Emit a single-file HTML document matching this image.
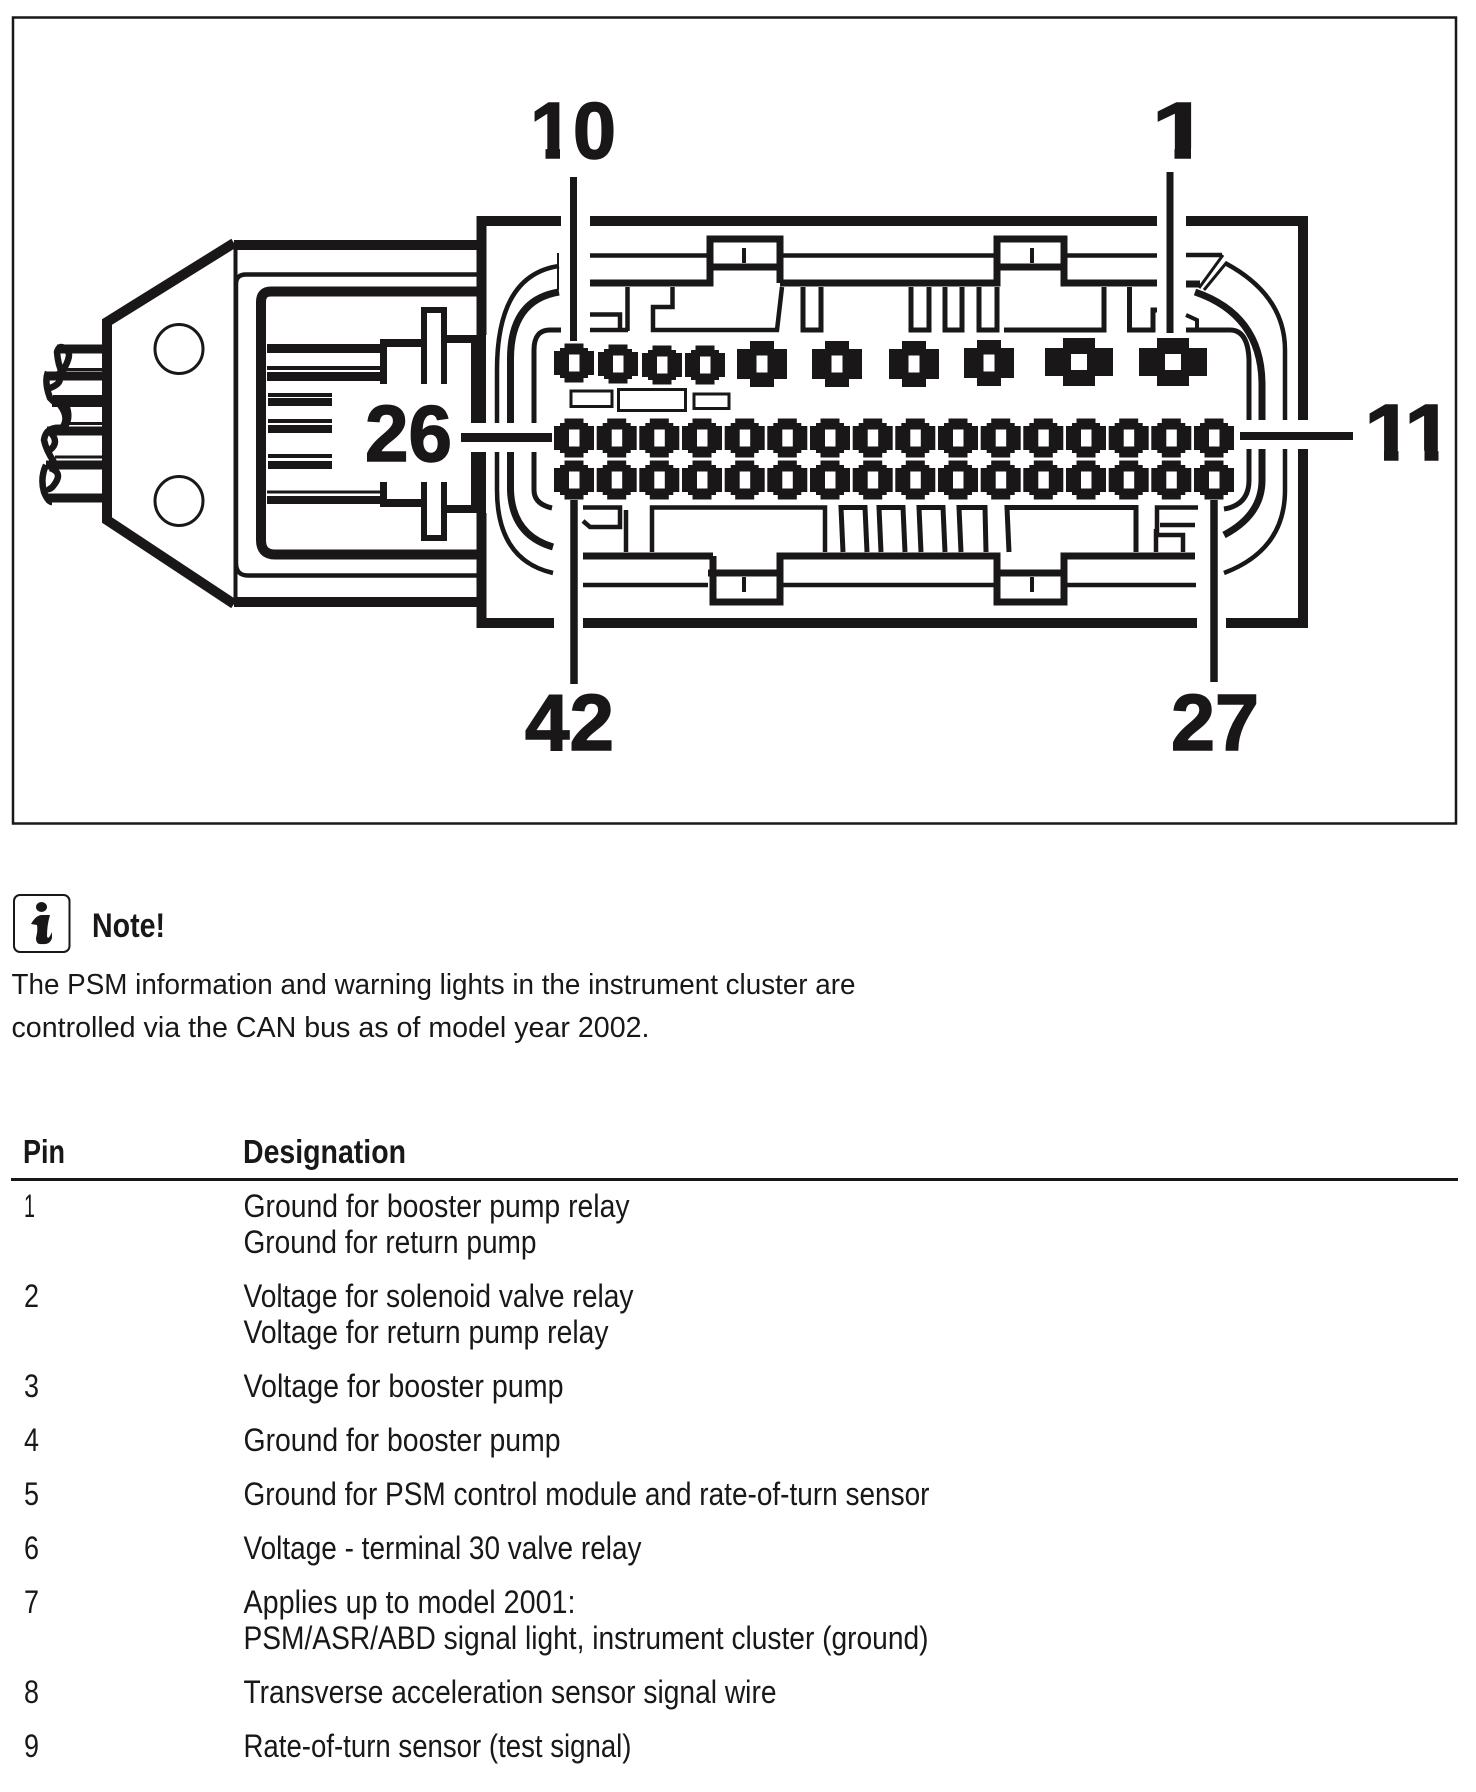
<!DOCTYPE html>
<html><head><meta charset="utf-8"><style>
html,body{margin:0;padding:0;background:#fff;width:1476px;height:1792px;overflow:hidden}
svg{display:block}
.l{font-family:"Liberation Sans",sans-serif;font-weight:700;font-size:80px;fill:#1a1718;stroke:#1a1718;stroke-width:1.5}
.t{font-family:"Liberation Sans",sans-serif;font-size:32px;fill:#1a1718}
.b{font-family:"Liberation Sans",sans-serif;font-size:33px;font-weight:700;fill:#1a1718}
.p{font-family:"Liberation Sans",sans-serif;font-size:29px;fill:#1a1718}
</style></head><body>
<svg width="1476" height="1792" viewBox="0 0 1476 1792" xmlns="http://www.w3.org/2000/svg">
<defs>
<path id="s" fill-rule="evenodd" d="M-9.5-19.5H9.5V-15H14V-12H20V12H14V15H9.5V19.5H-9.5V15H-14V12H-20V-12H-14V-15H-9.5ZM-5-8.5V8.5H5.5V-8.5Z"/>
<path id="m" fill-rule="evenodd" d="M-12-23H12V-15H25V15H12V23H-12V15H-25V-15H-12ZM-5.5-8.5V8.5H5.5V-8.5Z"/>
<path id="g" fill-rule="evenodd" d="M-16-24H16V-14H34V14H16V24H-16V14H-34V-14H-16ZM-8-8V8H8V-8Z"/>
</defs>
<rect x="13" y="17.500" width="1443" height="806" fill="none" stroke="#1a1718" stroke-width="2.500"/>
<g fill="none" stroke="#1a1718" stroke-linejoin="miter">
<!-- plug body -->
<path d="M234 245H477M234 602H477" stroke-width="10"/>
<path d="M234 243L107 322V520L234 604" stroke-width="10"/>
<path d="M235.500 245V602" stroke-width="4"/>
<ellipse cx="179" cy="349" rx="24" ry="24.500" stroke-width="3"/>
<ellipse cx="179" cy="501" rx="24" ry="24.500" stroke-width="3"/>
<path d="M477 274.500H246Q236 274.500 236 284V563Q236 575.500 248 575.500H477" stroke-width="4.500"/>
<path d="M477 291.500H271Q261 291.500 261 302V540Q261 554.500 275 554.500H477" stroke-width="10"/>
<!-- wires -->
<path d="M57 349H102M47 376H102M52 402.500H102M47 431H102M46 465H102M46 498H102" stroke-width="9"/>
<path d="M65 369.500H102M53 396.500H102M63 423.500H102M55 457H102" stroke-width="3"/>
<path d="M60 376Q72 356 68 352Q60 342 57 352Q58 365 62 372M48 372Q44 382 50 398L54 402M56 372Q66 382 50 388M60 405Q70 418 62 428Q46 426 44 440Q46 450 54 462M66 405Q72 420 62 430M50 432Q60 442 50 450M46 465Q40 478 44 492Q48 502 52 502M50 468Q62 472 56 482Q50 492 46 488" stroke-width="6.500"/>
<!-- pin bars -->
<path d="M267 348.500H384" stroke-width="9"/>
<path d="M267 368H384" stroke-width="4"/>
<path d="M267 376.500H384" stroke-width="9"/>
<path d="M268 395H332M268 421H332M268 456H332" stroke-width="4"/>
<path d="M268 402H332M268 429H332M268 465H332" stroke-width="8"/>
<path d="M267 492H384" stroke-width="3"/>
<path d="M267 500H384" stroke-width="8"/>
<path d="M383.500 339V384M383.500 482V507" stroke-width="7"/>
<path d="M380 343H421M380 503H421" stroke-width="8"/>
<path d="M424 384V310H444V384" stroke-width="6"/>
<path d="M424 482V538H444V482" stroke-width="6"/>
<path d="M447 339H472M447 509H472" stroke-width="8"/>
<!-- housing -->
<path d="M561 221H486M590 221H1157M1186 221H1308M554 623H486M583 623H1197M1226 623H1308" stroke-width="10"/>
<path d="M481.500 216V335M481.500 513V628M1303 216V420M1303 449V628" stroke-width="10"/>
<path d="M478.500 335V423M478.500 452V513" stroke-width="15"/>
<path d="M497 423V370Q497 275 559 266" stroke-width="4.500"/>
<path d="M497 452V490Q497 560 553 573" stroke-width="4.500"/>
<path d="M510.500 423V360Q510 300 559 292" stroke-width="7"/>
<path d="M510.500 452V490Q512 535 553 547" stroke-width="7"/>
<path d="M534 423V350Q534 330 550 330H561" stroke-width="5"/>
<path d="M534 452V490Q534 504 552 508" stroke-width="5"/>
<path d="M558 253V290" stroke-width="2"/>
<path d="M1225 263Q1285 295 1285 350V420" stroke-width="4.500"/>
<path d="M1285 449V490Q1285 550 1224 573" stroke-width="4.500"/>
<path d="M1195 292Q1262 315 1262 385V420" stroke-width="7"/>
<path d="M1262 449V480Q1262 515 1224 535" stroke-width="7"/>
<path d="M1186 330H1230Q1248 330 1249 360V420" stroke-width="5"/>
<path d="M1249 449V480Q1249 505 1224 509" stroke-width="5"/>
<!-- leader lines -->
<path d="M573.500 177V341" stroke-width="7"/>
<path d="M1170 172V333" stroke-width="7"/>
<path d="M574 500V684" stroke-width="7.500"/>
<path d="M1214 500V682" stroke-width="7.500"/>
<path d="M461 437.500H552" stroke-width="9"/>
<path d="M1240 436H1353" stroke-width="8"/>
<!-- upper inner structure -->
<path d="M590 255.500H708M783 255.500H994M1066 255.500H1157M1186 255H1222" stroke-width="4.500"/>
<path d="M590 283H710V239H780V283M780 283H997V239H1064V283H1157M1186 284H1200" stroke-width="7"/>
<path d="M708 267H780M997 267H1064" stroke-width="7"/>
<path d="M744 248V263M1032 248V263" stroke-width="4"/>
<path d="M1223 255L1199 288M1227 262L1204 290" stroke-width="3"/>
<path d="M590 314.500H620V331M590 330H628M627.500 287V331" stroke-width="4.500"/>
<path d="M672.500 287V307H653V330H777L782 287" stroke-width="4.500"/>
<path d="M803 287V330H821V287M911 287V330H929V287M945 287V330H962V287M979 287V330H997V287M1004 330H1104V287M1129.500 287V330H1153V310H1157" stroke-width="5"/>
<path d="M1186 315L1197 320V330" stroke-width="4"/>
<!-- lower inner structure -->
<path d="M583 556H713M713 556V602H780V556H997V602H1064V556H1195" stroke-width="7"/>
<path d="M583 585H708M783 585H994M1066 585H1196" stroke-width="4.500"/>
<path d="M708 573H780M997 573H1064" stroke-width="7"/>
<path d="M744 577V592M1032 577V592" stroke-width="4"/>
<path d="M583 507.500H620V527H590L583 521M626 510V552M652 552V507.500H825V552" stroke-width="4.500"/>
<path d="M843 552L841 507.500H865L867 552M881 552L879 507.500H903L905 552M921 552L919 507.500H943L945 552M961 552L959 507.500H985L986 552" stroke-width="5"/>
<path d="M1009 552L1007 507.500H1136V552" stroke-width="5"/>
<path d="M1156 552V529H1156M1198 507.500H1157V535H1183V552M1160 525H1195" stroke-width="4.500"/>
<!-- small rects -->
<rect x="571" y="391" width="41" height="15.500" stroke-width="3"/>
<rect x="618.500" y="389.500" width="67" height="21" stroke-width="3"/>
<rect x="694" y="394" width="35" height="14.500" stroke-width="3"/>
</g>
<g fill="#1a1718">
<use href="#s" x="574" y="363"/><use href="#s" x="618" y="364"/><use href="#s" x="662" y="365"/><use href="#s" x="705" y="365"/>
<use href="#m" x="762" y="364"/><use href="#m" x="837" y="364"/><use href="#m" x="914" y="364"/><use href="#m" x="989" y="363"/>
<use href="#g" x="1079" y="362"/><use href="#g" x="1173" y="362"/>
<use href="#s" x="574" y="438"/><use href="#s" x="616.700" y="438"/><use href="#s" x="659.300" y="438"/><use href="#s" x="702" y="438"/><use href="#s" x="744.700" y="438"/><use href="#s" x="787.300" y="438"/><use href="#s" x="830" y="438"/><use href="#s" x="872.700" y="438"/><use href="#s" x="915.300" y="438"/><use href="#s" x="958" y="438"/><use href="#s" x="1000.700" y="438"/><use href="#s" x="1043.300" y="438"/><use href="#s" x="1086" y="438"/><use href="#s" x="1128.700" y="438"/><use href="#s" x="1171.300" y="438"/><use href="#s" x="1214" y="438"/>
<use href="#s" x="574" y="480"/><use href="#s" x="616.700" y="480"/><use href="#s" x="659.300" y="480"/><use href="#s" x="702" y="480"/><use href="#s" x="744.700" y="480"/><use href="#s" x="787.300" y="480"/><use href="#s" x="830" y="480"/><use href="#s" x="872.700" y="480"/><use href="#s" x="915.300" y="480"/><use href="#s" x="958" y="480"/><use href="#s" x="1000.700" y="480"/><use href="#s" x="1043.300" y="480"/><use href="#s" x="1086" y="480"/><use href="#s" x="1128.700" y="480"/><use href="#s" x="1171.300" y="480"/><use href="#s" x="1214" y="480"/>
</g>
<!-- number labels -->
<text class="l" x="530" y="158" textLength="86" lengthAdjust="spacingAndGlyphs">10</text>
<text class="l" x="1151.500" y="158" textLength="58" lengthAdjust="spacingAndGlyphs">1</text>
<text class="l" x="365" y="461" textLength="87" lengthAdjust="spacingAndGlyphs">26</text>
<text class="l" transform="translate(1364.400 460) scale(1.1 1)" x="0 36.400" y="0">11</text>
<text class="l" x="525" y="750" textLength="89" lengthAdjust="spacingAndGlyphs">42</text>
<text class="l" x="1171" y="750" textLength="88" lengthAdjust="spacingAndGlyphs">27</text>
<g fill="#fff">
<rect x="530" y="148.500" width="15.500" height="12"/><rect x="560" y="148.500" width="13" height="12"/>
<rect x="1153" y="148.500" width="21.500" height="12"/><rect x="1191" y="148.500" width="22" height="12"/>
<rect x="1366" y="450.500" width="18" height="12"/><rect x="1398.500" y="450.500" width="26" height="12"/><rect x="1438.500" y="450.500" width="14" height="12"/>
</g>
<!-- note icon -->
<rect x="14" y="895" width="55.500" height="57" rx="6" fill="none" stroke="#1a1718" stroke-width="2"/>
<ellipse cx="41.500" cy="907" rx="5.500" ry="5" fill="#1a1718"/>
<path d="M31 924Q36 915 42 915L50 915Q47 925 47 936Q48 941 52 932L52 938Q50 945 42 944Q36 945 36 938Q38 930 37 925Z" fill="#1a1718"/>
<text class="b" x="92" y="937" style="font-size:34px" textLength="73" lengthAdjust="spacingAndGlyphs">Note!</text>
<text class="p" x="11.500" y="994" textLength="844" lengthAdjust="spacingAndGlyphs">The PSM information and warning lights in the instrument cluster are</text>
<text class="p" x="11.500" y="1037" textLength="638" lengthAdjust="spacingAndGlyphs">controlled via the CAN bus as of model year 2002.</text>
<!-- table -->
<text class="b" x="23" y="1163" textLength="42" lengthAdjust="spacingAndGlyphs">Pin</text>
<text class="b" x="243" y="1163" textLength="163" lengthAdjust="spacingAndGlyphs">Designation</text>
<rect x="11" y="1178" width="1447" height="3" fill="#1a1718"/>
<text class="t" x="24" y="1217" textLength="11" lengthAdjust="spacingAndGlyphs">1</text>
<text class="t" x="243.500" y="1217" textLength="386" lengthAdjust="spacingAndGlyphs">Ground for booster pump relay</text>
<text class="t" x="243.500" y="1253" textLength="293" lengthAdjust="spacingAndGlyphs">Ground for return pump</text>
<text class="t" x="24" y="1307" textLength="15" lengthAdjust="spacingAndGlyphs">2</text>
<text class="t" x="243.500" y="1307" textLength="390" lengthAdjust="spacingAndGlyphs">Voltage for solenoid valve relay</text>
<text class="t" x="243.500" y="1343" textLength="365" lengthAdjust="spacingAndGlyphs">Voltage for return pump relay</text>
<text class="t" x="24" y="1397" textLength="15" lengthAdjust="spacingAndGlyphs">3</text>
<text class="t" x="243.500" y="1397" textLength="320" lengthAdjust="spacingAndGlyphs">Voltage for booster pump</text>
<text class="t" x="24" y="1451" textLength="15" lengthAdjust="spacingAndGlyphs">4</text>
<text class="t" x="243.500" y="1451" textLength="317" lengthAdjust="spacingAndGlyphs">Ground for booster pump</text>
<text class="t" x="24" y="1505" textLength="15" lengthAdjust="spacingAndGlyphs">5</text>
<text class="t" x="243.500" y="1505" textLength="686" lengthAdjust="spacingAndGlyphs">Ground for PSM control module and rate-of-turn sensor</text>
<text class="t" x="24" y="1559" textLength="15" lengthAdjust="spacingAndGlyphs">6</text>
<text class="t" x="243.500" y="1559" textLength="398" lengthAdjust="spacingAndGlyphs">Voltage - terminal 30 valve relay</text>
<text class="t" x="24" y="1613" textLength="15" lengthAdjust="spacingAndGlyphs">7</text>
<text class="t" x="243.500" y="1613" textLength="332" lengthAdjust="spacingAndGlyphs">Applies up to model 2001:</text>
<text class="t" x="243.500" y="1649" textLength="685" lengthAdjust="spacingAndGlyphs">PSM/ASR/ABD signal light, instrument cluster (ground)</text>
<text class="t" x="24" y="1703" textLength="15" lengthAdjust="spacingAndGlyphs">8</text>
<text class="t" x="243.500" y="1703" textLength="533" lengthAdjust="spacingAndGlyphs">Transverse acceleration sensor signal wire</text>
<text class="t" x="24" y="1757" textLength="15" lengthAdjust="spacingAndGlyphs">9</text>
<text class="t" x="243.500" y="1757" textLength="388" lengthAdjust="spacingAndGlyphs">Rate-of-turn sensor (test signal)</text>
</svg>
</body></html>
